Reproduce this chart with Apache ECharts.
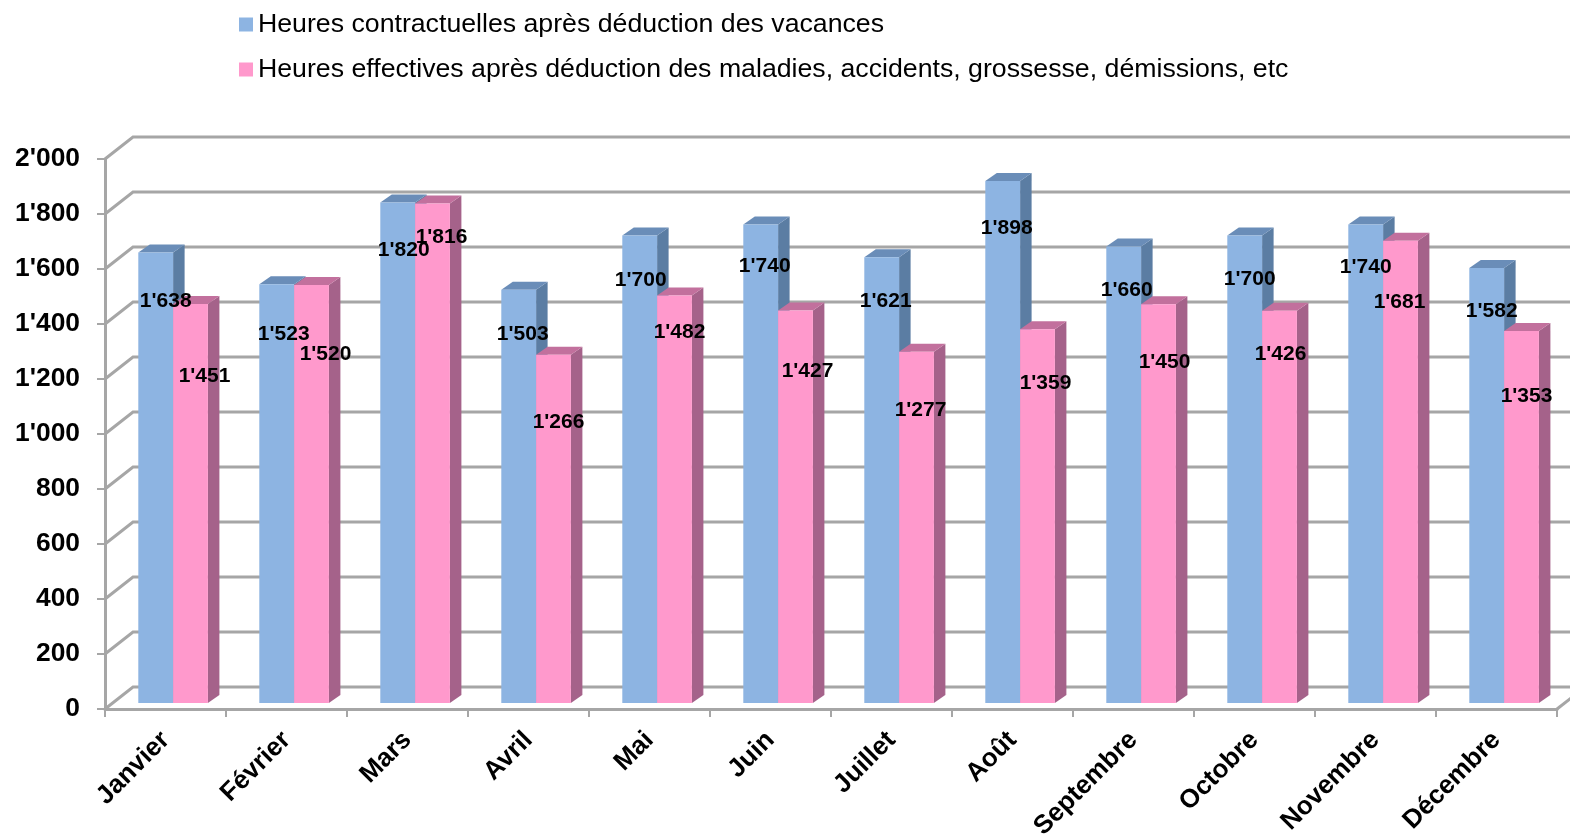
<!DOCTYPE html>
<html><head><meta charset="utf-8">
<style>html,body{margin:0;padding:0;background:#fff}#c{width:1570px;height:837px}</style>
<script src="https://cdn.jsdelivr.net/npm/echarts@6/dist/echarts.min.js"></script>
</head><body><div id="c"></div>
<script>
const categories = ['Janvier','Février','Mars','Avril','Mai','Juin','Juillet','Août','Septembre','Octobre','Novembre','Décembre'];
const contractHours = [1638,1523,1820,1503,1700,1740,1621,1898,1660,1700,1740,1582];
const effectiveHours = [1451,1520,1816,1266,1482,1427,1277,1359,1450,1426,1681,1353];
const yTicks = [0,200,400,600,800,1000,1200,1400,1600,1800,2000];
const nameContract = 'Heures contractuelles après déduction des vacances';
const nameEffective = 'Heures effectives après déduction des maladies, accidents, grossesse, démissions, etc';

// label displacement from the top of each bar, as in the picture
const contractLabelDx = [10,7,6,4,1,4,4,4,3,5,0,5];
const contractLabelDy = [49,50,47.5,45,44.5,41.5,44,47,43.5,43.5,42.5,43];
const effectiveLabelDx = [14,14,9,5,5,12,4,8,6,1,-1,5];
const effectiveLabelDy = [72,69,33.4,67,36.5,60.4,58,53.7,57.7,43,61,65];

const fmt = v => { const s = String(v); return s.length > 3 ? s.slice(0,-3) + "'" + s.slice(-3) : s; };
const AXIS = '#A6A6A6';
const WALL = {dx:28, dy:-22};
const FRONT = {dx:7.6, dy:-6};
const DEPTH = {dx:11.5, dy:-8};
const BAR_W = 34.8;
const LABEL_FONT = 'bold 21px "Liberation Sans", Arial, sans-serif';

function wallItem(params, api){
  const cs = params.coordSys, v = api.value(0), y = api.coord([0,v])[1];
  const line = {type:'polyline', silent:true,
    shape:{points:[[cs.x,y],[cs.x+WALL.dx,y+WALL.dy],[cs.x+cs.width+WALL.dx,y+WALL.dy]]},
    style:{stroke:AXIS, lineWidth:3, fill:'none'}};
  if (v !== 0) return line;
  const edge = {type:'line', silent:true,
    shape:{x1:cs.x+cs.width,y1:y,x2:cs.x+cs.width+WALL.dx,y2:y+WALL.dy},
    style:{stroke:AXIS, lineWidth:3}};
  return {type:'group', children:[line, edge]};
}
function barRenderer(side, colors){
  return function(params, api){
    const i = api.value(0), v = api.value(1);
    const top = api.coord([i,v]), base = api.coord([i,0]);
    const xc = top[0] + FRONT.dx;
    const x0 = side < 0 ? xc - BAR_W : xc, x1 = x0 + BAR_W;
    const y0 = top[1] + FRONT.dy, y1 = base[1] + FRONT.dy;
    const d = DEPTH;
    return {type:'group', children:[
      {type:'polygon', shape:{points:[[x1,y0],[x1+d.dx,y0+d.dy],[x1+d.dx,y1+d.dy],[x1,y1]]}, style:{fill:colors.side}},
      {type:'polygon', shape:{points:[[x0,y0],[x1,y0],[x1+d.dx,y0+d.dy],[x0+d.dx,y0+d.dy]]}, style:{fill:colors.top}},
      {type:'rect', shape:{x:x0,y:y0,width:BAR_W,height:y1-y0}, style:{fill:colors.front}}
    ]};
  };
}
function labelRenderer(side, dxs, dys){
  return function(params, api){
    const i = api.value(0), v = api.value(1), top = api.coord([i,v]);
    const x = top[0] + FRONT.dx + side*BAR_W/2 + dxs[i];
    const y = top[1] + FRONT.dy + dys[i];
    return {type:'text', silent:true, style:{text:fmt(v), x, y, font:LABEL_FONT, fill:'#000', align:'center', verticalAlign:'middle'}};
  };
}
const blue = {front:'#8DB4E2', side:'#5B7DA3', top:'#6A8DB8'};
const pink = {front:'#FF99CC', side:'#A5628A', top:'#C2709D'};
const chart = echarts.init(document.getElementById('c'), null, {renderer:'canvas'});
const pairs = a => a.map((v,i)=>[i,v]);
chart.setOption({
  animation:false,
  backgroundColor:'#fff',
  textStyle:{fontFamily:'"Liberation Sans", Arial, sans-serif'},
  legend:{
    left:234, top:6, orient:'vertical', itemWidth:14, itemHeight:14, itemGap:18, icon:'rect',
    selectedMode:false, data:[nameContract,nameEffective],
    textStyle:{fontSize:26.7, color:'#000', fontFamily:'"Liberation Sans", Arial, sans-serif'}
  },
  grid:{left:105, right:13, top:159, bottom:128, containLabel:false, outerBoundsMode:'none'},
  xAxis:{type:'category', data:categories,
    axisLine:{lineStyle:{color:AXIS,width:3}},
    axisTick:{show:true, alignWithLabel:false, length:8, lineStyle:{color:AXIS,width:2}},
    axisLabel:{rotate:45, interval:0, margin:27, fontSize:26, fontWeight:'bold', color:'#000'},
    splitLine:{show:false}
  },
  yAxis:{type:'value', min:0, max:2000, interval:200,
    axisLine:{show:true, lineStyle:{color:AXIS,width:3}},
    axisTick:{show:true, length:8, lineStyle:{color:AXIS,width:2}},
    axisLabel:{margin:25, fontSize:26.4, fontWeight:'bold', color:'#000', formatter:fmt, padding:[2,0,0,0]},
    splitLine:{show:false}
  },
  series:[
    {type:'custom', name:'wall', clip:false, z:1, data:yTicks.map(v=>[v]), encode:{y:0}, renderItem:wallItem, silent:true},
    {type:'custom', name:nameContract, clip:false, z:2, itemStyle:{color:blue.front}, data:pairs(contractHours), encode:{x:0,y:1}, renderItem:barRenderer(-1,blue)},
    {type:'custom', name:nameEffective, clip:false, z:3, itemStyle:{color:pink.front}, data:pairs(effectiveHours), encode:{x:0,y:1}, renderItem:barRenderer(1,pink)},
    {type:'custom', name:'labelsContract', clip:false, z:5, data:pairs(contractHours), encode:{x:0,y:1}, renderItem:labelRenderer(-1,contractLabelDx,contractLabelDy)},
    {type:'custom', name:'labelsEffective', clip:false, z:5, data:pairs(effectiveHours), encode:{x:0,y:1}, renderItem:labelRenderer(1,effectiveLabelDx,effectiveLabelDy)}
  ]
});
</script></body></html>
